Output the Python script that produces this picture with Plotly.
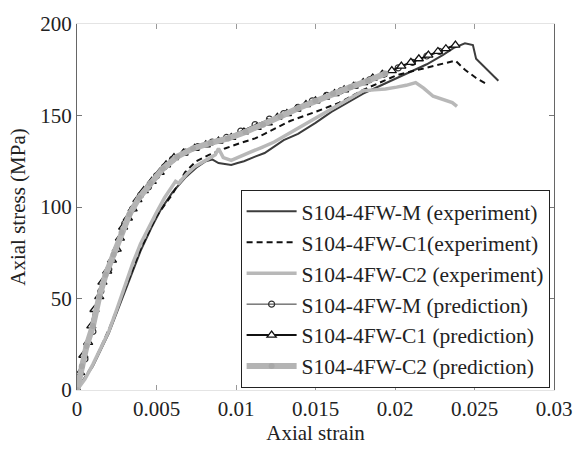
import plotly.graph_objects as go

# ---------------- data ----------------
m_exp_strain = [0, 0.001, 0.002, 0.003, 0.004, 0.0047, 0.0053, 0.006, 0.0068, 0.0075, 0.0081, 0.0085,
                0.0089, 0.0093, 0.0097, 0.0101, 0.0105, 0.0112, 0.0118, 0.0124, 0.013, 0.0139, 0.015,
                0.016, 0.017, 0.018, 0.019, 0.02, 0.021, 0.022, 0.023, 0.0237, 0.0244, 0.0249, 0.0251,
                0.0258, 0.0265]
m_exp_stress = [0, 13, 31, 54, 76, 89, 99, 108, 116, 121.5, 125, 126, 124, 123.5, 123, 124, 125, 127.5,
                129.5, 133, 136.5, 140, 146, 152, 157, 162, 166, 170, 174, 178, 183, 187, 189.5, 188.5,
                181, 175, 169]

c1_exp_strain = [0, 0.001, 0.002, 0.003, 0.004, 0.005, 0.0055, 0.006, 0.0068, 0.0075, 0.0083, 0.0093,
                 0.0103, 0.0112, 0.0118, 0.0126, 0.0134, 0.015, 0.0165, 0.018, 0.019, 0.0201, 0.021,
                 0.0219, 0.0228, 0.0238, 0.0244, 0.0251, 0.0258]
c1_exp_stress = [0, 14, 33, 55, 77, 95, 101, 107, 119, 125, 128.5, 132, 135, 137.5, 140, 143.5, 147,
                 152, 157, 164, 168, 172, 174, 176, 178, 180, 175, 170.5, 167]

c2_exp_strain = [0, 0.0005, 0.001, 0.0015, 0.002, 0.0025, 0.003, 0.0035, 0.004, 0.0045, 0.005, 0.0055,
                 0.006, 0.0062, 0.0064, 0.0069, 0.0074, 0.0079, 0.0083, 0.0087, 0.0089, 0.0092, 0.0097,
                 0.0103, 0.0109, 0.0116, 0.0124, 0.013, 0.0139, 0.0147, 0.0158, 0.0168, 0.0175, 0.018,
                 0.0187, 0.0194, 0.0201, 0.0207, 0.0213, 0.0218, 0.0224, 0.023, 0.0236, 0.0239]
c2_exp_stress = [0, 6, 14, 23, 32, 44, 57, 69, 80, 89, 97, 105, 111, 114, 113, 118, 122, 124.5, 126,
                 128.5, 132, 127, 125.5, 127.5, 130, 132.5, 135.5, 138.5, 143, 147.5, 153, 158, 161.5,
                 163.5, 164, 164.5, 165.5, 166.5, 168, 165, 160.5, 159, 157, 155]

m_pred_strain = [0, 0.0005, 0.001, 0.0015, 0.002, 0.0025, 0.003, 0.0035, 0.004, 0.0045, 0.005, 0.0055,
                 0.006, 0.0068, 0.0076, 0.0085, 0.0094, 0.0103, 0.0112, 0.0121, 0.013, 0.0139, 0.0148,
                 0.0157, 0.0166, 0.0175, 0.0184, 0.0193, 0.0202, 0.0211, 0.022, 0.0228]
m_pred_stress = [0, 17, 32, 54, 66, 77, 91, 99, 106.5, 111, 117, 122, 126, 130, 133, 135.5, 138, 141.5,
                 145, 148, 151, 154.5, 158, 161, 163.5, 166.5, 169.5, 172.5, 176, 179, 182.5, 185]

c1_pred_strain = [0, 0.0002, 0.0004, 0.0007, 0.0009, 0.0011, 0.0014, 0.0016, 0.0019, 0.0022, 0.0025,
                  0.0027, 0.0029, 0.0032, 0.0035, 0.0038, 0.0042, 0.0047, 0.0052, 0.0056, 0.0061, 0.0067,
                  0.0074, 0.0081, 0.0089, 0.0097, 0.0105, 0.0113, 0.012, 0.0126, 0.0132, 0.0138, 0.0144,
                  0.015, 0.0156, 0.0162, 0.0168, 0.0174, 0.018, 0.0186, 0.0192, 0.0198, 0.0204, 0.021,
                  0.0215, 0.0221, 0.0227, 0.0232, 0.0238]
c1_pred_stress = [0, 9.5, 19, 26, 35, 44, 51, 59, 65, 71, 77, 83, 89, 94, 99, 104, 109, 114, 119, 123,
                  127, 129.5, 132, 134, 136, 138, 141, 143.5, 146, 149, 151, 153.5, 156, 158, 160, 162,
                  164, 166, 168, 170.5, 172.5, 174.5, 177, 179, 181, 183, 185, 186.5, 188.5]

c2_pred_strain = [0, 0.0003, 0.0006, 0.001, 0.0014, 0.0018, 0.0023, 0.0028, 0.0033, 0.0039, 0.0046,
                  0.0054, 0.0063, 0.0073, 0.0084, 0.0095, 0.0106, 0.0117, 0.0128, 0.0139, 0.015, 0.0161,
                  0.0172, 0.0183, 0.0194]
c2_pred_stress = [0, 13, 24, 35, 51, 63, 74, 86, 96, 105, 113, 121, 127.5, 132, 135, 137.5, 141, 145,
                  149.5, 154, 158, 162, 165.5, 169, 173]

x_ticks = [0, 0.005, 0.01, 0.015, 0.02, 0.025, 0.03]
x_tick_labels = ["0", "0.005", "0.01", "0.015", "0.02", "0.025", "0.03"]
y_ticks = [0, 50, 100, 150, 200]
y_tick_labels = ["0", "50", "100", "150", "200"]

names = ["S104-4FW-M (experiment)", "S104-4FW-C1(experiment)", "S104-4FW-C2 (experiment)",
         "S104-4FW-M (prediction)", "S104-4FW-C1 (prediction)", "S104-4FW-C2 (prediction)"]

FONT = "Liberation Serif"

fig = go.Figure()
fig.add_trace(go.Scatter(x=m_exp_strain, y=m_exp_stress, mode="lines", name=names[0],
                         line=dict(color="#3c3c3c", width=2)))
fig.add_trace(go.Scatter(x=c1_exp_strain, y=c1_exp_stress, mode="lines", name=names[1],
                         line=dict(color="#111111", width=2, dash="6px,4px")))
fig.add_trace(go.Scatter(x=c2_exp_strain, y=c2_exp_stress, mode="lines", name=names[2],
                         line=dict(color="#b8b8b8", width=3.5)))
fig.add_trace(go.Scatter(x=m_pred_strain, y=m_pred_stress, mode="lines+markers", name=names[3],
                         line=dict(color="#333333", width=1),
                         marker=dict(symbol="circle-open", size=6, color="#333333",
                                     line=dict(width=1.2))))
fig.add_trace(go.Scatter(x=c1_pred_strain, y=c1_pred_stress, mode="lines+markers", name=names[4],
                         line=dict(color="#111111", width=2),
                         marker=dict(symbol="triangle-up", size=8, color="white",
                                     line=dict(color="#111111", width=1.3))))
fig.add_trace(go.Scatter(x=c2_pred_strain, y=c2_pred_stress, mode="lines+markers", name=names[5],
                         line=dict(color="#b4b4b4", width=6),
                         marker=dict(symbol="circle", size=6, color="#a8a8a8")))

fig.update_layout(
    width=584, height=452,
    margin=dict(l=77, r=24, t=15, b=59),
    paper_bgcolor="white", plot_bgcolor="white",
    font=dict(family=FONT, size=21, color="#222222"),
    showlegend=True,
    legend=dict(x=0.343, y=0.006, xanchor="left", yanchor="bottom",
                bgcolor="white", bordercolor="#222222", borderwidth=1,
                font=dict(family=FONT, size=21.5, color="#222222"),
                tracegroupgap=0, itemwidth=50),
    xaxis=dict(range=[0, 0.03], tickvals=x_ticks, ticktext=x_tick_labels,
               ticks="inside", ticklen=5, tickcolor="#999999",
               showline=True, linecolor="#e4e4e4", linewidth=1, mirror="ticks",
               showgrid=False, zeroline=False,
               title=dict(text="Axial strain", font=dict(family=FONT, size=21), standoff=4),
               tickfont=dict(family=FONT, size=21)),
    yaxis=dict(range=[0, 200], tickvals=y_ticks, ticktext=y_tick_labels,
               ticks="inside", ticklen=5, tickcolor="#777777",
               showline=True, linecolor="#666666", linewidth=1, mirror="ticks",
               showgrid=False, zeroline=False,
               title=dict(text="Axial stress (MPa)", font=dict(family=FONT, size=21), standoff=8),
               tickfont=dict(family=FONT, size=21)),
)

fig.write_html("out.html")
